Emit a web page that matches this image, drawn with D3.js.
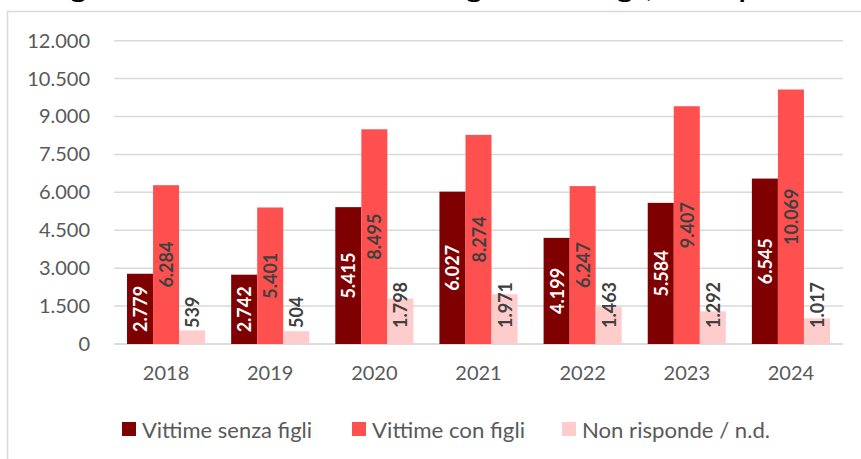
<!DOCTYPE html>
<html>
<head>
<meta charset="utf-8">
<script src="https://cdn.jsdelivr.net/npm/d3@7"></script>
<style>
  body { margin: 0; background: #fff; }
  #chart { width: 861px; height: 459px; overflow: hidden; }
  text { font-family: Lato, "Open Sans", sans-serif; }
</style>
</head>
<body>
<div id="chart"></div>
<script>
// data
const years = ["2018", "2019", "2020", "2021", "2022", "2023", "2024"];
const seriesNames = ["Vittime senza figli", "Vittime con figli", "Non risponde / n.d."];
const senzaFigli = [2779, 2742, 5415, 6027, 4199, 5584, 6545];
const conFigli = [6284, 5401, 8495, 8274, 6247, 9407, 10069];
const nonRisponde = [539, 504, 1798, 1971, 1463, 1292, 1017];
const yTicks = [0, 1500, 3000, 4500, 6000, 7500, 9000, 10500, 12000];
const colors = ["#7f0000", "#ff5050", "#ffcccc"];

const seriesValues = [senzaFigli, conFigli, nonRisponde];
const fmt = d3.formatLocale({ decimal: ",", thousands: ".", grouping: [3], currency: ["", "€"] }).format(",d");

const W = 861, H = 459;
const svg = d3.select("#chart").append("svg")
    .attr("width", W)
    .attr("height", H)
    .style("display", "block");

// frame of the chart area
svg.append("rect")
    .attr("x", 7.5).attr("y", 11.5)
    .attr("width", 900).attr("height", 500)
    .attr("fill", "none")
    .attr("stroke", "#d9d9d9")
    .attr("stroke-width", 1.5);

// title, cut at the top of the picture (as in the reference)
svg.append("text")
    .attr("x", 48).attr("y", -2.5)
    .attr("font-weight", "bold")
    .attr("font-size", 20)
    .attr("fill", "#000")
    .attr("textLength", 800)
    .attr("lengthAdjust", "spacingAndGlyphs")
    .text("Figura 7. Vittime di violenza con figli e senza figli, totale per anno");

const x = d3.scaleBand().domain(years).range([114, 843]).paddingInner(0.25).paddingOuter(0.125);
const xs = d3.scaleBand().domain(d3.range(3)).range([0, x.bandwidth()]);
const y = d3.scaleLinear().domain([0, 12000]).range([344, 40.7]);

// gridlines
svg.append("g")
    .selectAll("line")
    .data(yTicks)
    .join("line")
    .attr("x1", 114).attr("x2", 843)
    .attr("y1", d => y(d)).attr("y2", d => y(d))
    .attr("stroke", d => d === 0 ? "#d0d0d0" : "#d9d9d9")
    .attr("stroke-width", 1.5);

// y axis labels
const yAxis = svg.append("g")
    .attr("transform", "translate(90,0)")
    .call(d3.axisLeft(y).tickValues(yTicks).tickFormat(fmt).tickSize(0).tickPadding(0));
yAxis.select(".domain").remove();
yAxis.selectAll("text")
    .attr("font-family", "Lato, sans-serif")
    .attr("font-size", 20)
    .attr("fill", "#595959");

// x axis labels
const xAxis = svg.append("g")
    .attr("transform", "translate(0," + y(0) + ")")
    .call(d3.axisBottom(x).tickSize(0).tickPadding(22));
xAxis.select(".domain").remove();
xAxis.selectAll("text")
    .attr("font-family", "Lato, sans-serif")
    .attr("font-size", 20)
    .attr("fill", "#595959");

// bars
const groups = svg.append("g")
    .selectAll("g")
    .data(years)
    .join("g")
    .attr("transform", d => "translate(" + x(d) + ",0)");

groups.selectAll("rect")
    .data((d, i) => seriesValues.map((s, k) => ({ k: k, v: s[i] })))
    .join("rect")
    .attr("x", d => xs(d.k))
    .attr("y", d => y(d.v))
    .attr("width", xs.bandwidth())
    .attr("height", d => y(0) - y(d.v))
    .attr("fill", d => colors[d.k]);

// data labels
groups.selectAll("text.lbl")
    .data((d, i) => seriesValues.map((s, k) => ({ k: k, v: s[i] })))
    .join("text")
    .attr("class", "lbl")
    .attr("transform", d => {
        const cx = xs(d.k) + xs.bandwidth() / 2;
        const cy = d.k === 2 ? y(0) - 16 : (y(d.v) + y(0)) / 2;
        return "translate(" + cx + "," + cy + ") rotate(-90)";
    })
    .attr("text-anchor", d => d.k === 2 ? "start" : "middle")
    .attr("dominant-baseline", "central")
    .attr("font-weight", "bold")
    .attr("font-size", 18)
    .attr("fill", d => d.k === 0 ? "#ffffff" : "#404040")
    .text(d => fmt(d.v));

// legend (Calibri-like narrow text, so the width is fixed per item)
const legendX = [122, 352, 562];
const legendW = [170, 153, 188];
const legend = svg.append("g")
    .selectAll("g")
    .data(seriesNames)
    .join("g")
    .attr("transform", (d, i) => "translate(" + legendX[i] + ",422)");

legend.append("rect")
    .attr("width", 14).attr("height", 14)
    .attr("fill", (d, i) => colors[i]);

legend.append("text")
    .attr("x", 20).attr("y", 7)
    .attr("dominant-baseline", "central")
    .attr("font-size", 22)
    .attr("fill", "#595959")
    .attr("textLength", (d, i) => legendW[i])
    .attr("lengthAdjust", "spacingAndGlyphs")
    .text(d => d);
</script>
</body>
</html>
